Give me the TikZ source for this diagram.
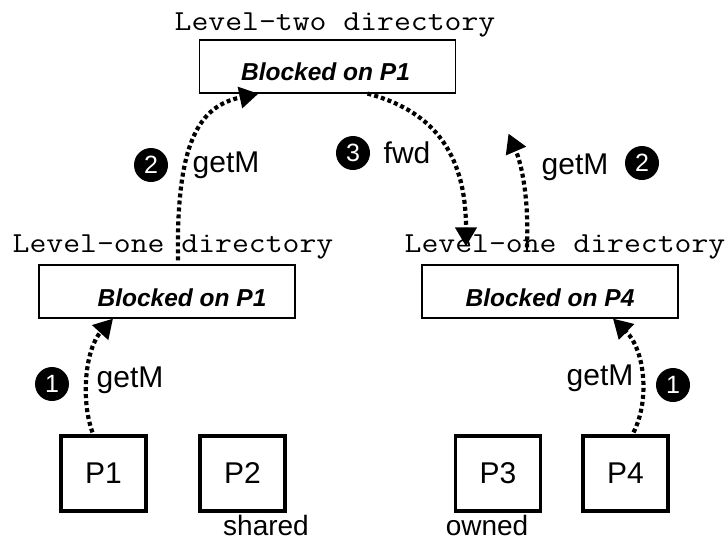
\documentclass[tikz,border=0pt]{standalone}
\usepackage{fontspec}
\setmainfont{Liberation Sans}
\usetikzlibrary{arrows.meta,calc}
\newcommand{\dirtext}[1]{\scalebox{1.13}[1]{#1}}
\tikzset{
  dirbox/.style={draw,line width=1.2pt,minimum width=256pt,minimum height=53pt,inner sep=0pt},
  procbox/.style={draw,line width=3.2pt,minimum width=85pt,minimum height=75pt,inner sep=0pt,font=\fontsize{30}{30}\selectfont},
  dirlabel/.style={font=\ttfamily\fontsize{29}{29}\selectfont,inner sep=0pt},
  blocked/.style={font=\bfseries\itshape\fontsize{24.5}{24.5}\selectfont,inner sep=0pt},
  msg/.style={font=\fontsize{30}{30}\selectfont,inner sep=0pt},
  note/.style={font=\fontsize{28}{28}\selectfont,inner sep=0pt},
  stepnum/.style={circle,fill=black,text=white,minimum size=34pt,inner sep=0pt,font=\fontsize{25}{25}\selectfont},
  flow/.style={line width=4.2pt,dash pattern=on 4pt off 3pt,-{Triangle[length=19pt,width=21pt]}}
}
\begin{document}
\begin{tikzpicture}[x=1pt,y=-1pt]
\useasboundingbox[fill=white] (0,0) rectangle (728,541);
% directories
\node[dirbox] (top) at (327.5,66.5) {};
\node[blocked] (topt) at (325.5,72) {Blocked on P1};
\node[dirlabel] (topl) at (335,25) {\dirtext{Level-two directory}};
\node[dirbox] (left) at (167,291.5) {};
\node[blocked] (leftt) at (182,298) {Blocked on P1};
\node[dirlabel] (leftl) at (173,247) {\dirtext{Level-one directory}};
\node[dirbox] (right) at (550,291.5) {};
\node[blocked] (rightt) at (550,298) {Blocked on P4};
\node[dirlabel] (rightl) at (565,247) {\dirtext{Level-one directory}};
% processors
\node[procbox] (p1) at (103.5,473.5) {P1};
\node[procbox] (p2) at (242.5,473.5) {P2};
\node[procbox] (p3) at (498,473.5) {P3};
\node[procbox] (p4) at (625.5,473.5) {P4};
\node[note] (sh) at (266,525) {shared};
\node[note] (ow) at (487,525) {owned};
% arrows
\draw[flow] ($(p1.north)+(-11,-2)$) .. controls (80,398) and (86,348) .. ($(left.south)+(-54,0)$);
\draw[flow] ($(left.north)+(11,-4)$) .. controls (176,140) and (200,106) .. ($(top.south)+(-69,0)$);
\draw[flow] ($(top.south)+(40,0)$) .. controls (430,110) and (466,150) .. ($(right.north)+(-84,-18)$);
\draw[flow] ($(right.north)+(-23,-17)$) .. controls (529,200) and (522,165) .. ($(top.south)+(181,40)$);
\draw[flow] ($(p4.north)+(8,-2)$) .. controls (650,400) and (645,350) .. ($(right.south)+(63,0)$);
% labels
\node[msg] (g1) at (130,380) {getM};
\node[stepnum] (c1) at (52,384) {1};
\node[msg] (g2) at (226,165) {getM};
\node[stepnum] (c2) at (151,165) {2};
\node[msg] (f3) at (407,153) {fwd};
\node[stepnum] (c3) at (353,153) {3};
\node[msg] (g2r) at (575,167) {getM};
\node[stepnum] (c2r) at (642,163) {2};
\node[msg] (g1r) at (600,378) {getM};
\node[stepnum] (c1r) at (673,385) {1};
\end{tikzpicture}
\end{document}
